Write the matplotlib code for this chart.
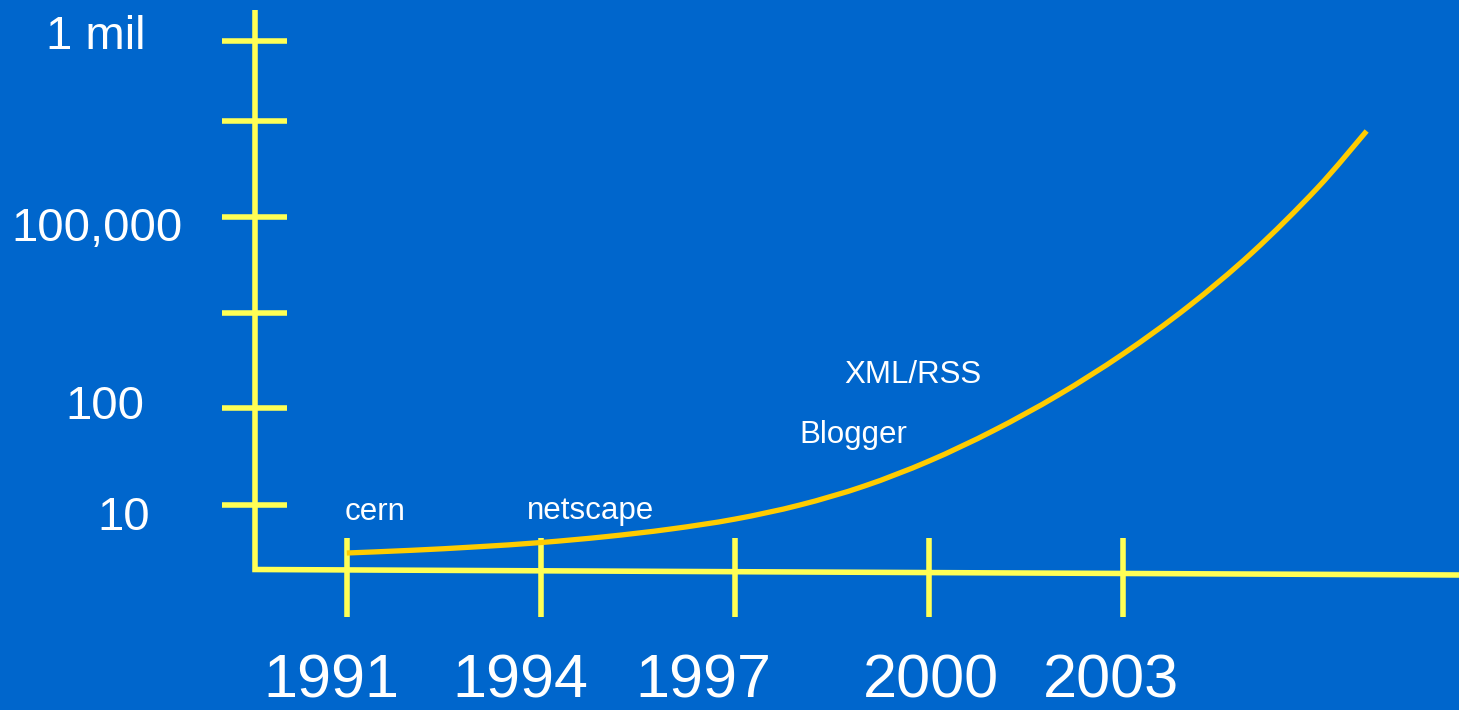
import matplotlib
matplotlib.use("Agg")
import matplotlib.pyplot as plt
from matplotlib.path import Path
from matplotlib.patches import PathPatch

# ---------------- data ----------------
years = [1991, 1992, 1993, 1994, 1995, 1996, 1997, 1998, 1999, 2000,
         2001, 2002, 2003, 2004, 2005, 2006, 2006.77]
growth_level = [0.500, 0.528, 0.564, 0.609, 0.670, 0.749, 0.853, 0.999, 1.197, 1.457,
                1.775, 2.145, 2.572, 3.061, 3.629, 4.296, 4.896]

year_ticks = [1991, 1994, 1997, 2000, 2003]
year_labels = ["1991", "1994", "1997", "2000", "2003"]

level_ticks = [1, 2.01, 3.0, 4.0, 5.0, 5.83]
level_labels = ["10", "100", "", "100,000", "", "1 mil"]

events = ["cern", "netscape", "Blogger", "XML/RSS"]

# ---------------- style / layout ----------------
W, H, DPI = 1459, 710, 100
BG = "#0066CC"
AXIS = "#FFFF55"
CURVE = "#FFCC00"
FONT = "Liberation Sans"

# pixel <-> data mapping of the slide
PX_PER_YEAR = 64.67
PX_1991 = 346.8
PX_LEVEL1 = 505.0
PX_PER_LEVEL = 96.0


def yr(px):
    return 1991 + (px - PX_1991) / PX_PER_YEAR


def lv(py):
    return 1 + (PX_LEVEL1 - py) / PX_PER_LEVEL


fig = plt.figure(figsize=(W / DPI, H / DPI), dpi=DPI, facecolor=BG)
ax = fig.add_axes([0, 0, 1, 1])
ax.set_facecolor(BG)
ax.set_xlim(yr(0), yr(W))
ax.set_ylim(lv(H), lv(0))
ax.axis("off")

lw_axis = 4.0
# axes frame (slide drawing): vertical + slightly slanted horizontal
ax.plot([yr(255), yr(255), yr(W)], [lv(10), lv(569.5), lv(575)],
        color=AXIS, lw=lw_axis, solid_joinstyle="miter", solid_capstyle="butt", zorder=2)

# y tick marks crossing the axis
for lvl in level_ticks:
    ax.plot([yr(222), yr(287)], [lvl, lvl], color=AXIS, lw=lw_axis,
            solid_capstyle="butt", zorder=2)

# x tick marks crossing the axis
for y in year_ticks:
    ax.plot([y, y], [lv(538), lv(617)], color=AXIS, lw=lw_axis,
            solid_capstyle="butt", zorder=2)

# growth curve: smooth (Catmull-Rom -> cubic Bezier) path through the read points
pts = list(zip(years, growth_level))
verts = [pts[0]]
codes = [Path.MOVETO]
n = len(pts)
for i in range(n - 1):
    p0 = pts[i - 1] if i > 0 else pts[i]
    p1 = pts[i]
    p2 = pts[i + 1]
    p3 = pts[i + 2] if i + 2 < n else pts[i + 1]
    c1 = (p1[0] + (p2[0] - p0[0]) / 6, p1[1] + (p2[1] - p0[1]) / 6)
    c2 = (p2[0] - (p3[0] - p1[0]) / 6, p2[1] - (p3[1] - p1[1]) / 6)
    verts += [c1, c2, p2]
    codes += [Path.CURVE4, Path.CURVE4, Path.CURVE4]
ax.add_patch(PathPatch(Path(verts, codes), facecolor="none", edgecolor=CURVE,
                       lw=3.8, capstyle="butt", joinstyle="round", zorder=3))

# y labels (individually placed as on the slide)
ylab_pos = [(124, 530), (105, 419), None, (97, 241), None, (96, 49)]
for lab, pos in zip(level_labels, ylab_pos):
    if lab and pos:
        ax.text(yr(pos[0]), lv(pos[1]), lab, color="white", fontsize=34,
                family=FONT, ha="center", va="baseline")

# year labels
year_lab_x = [331, 520, 703, 931, 1111]
for lab, px in zip(year_labels, year_lab_x):
    ax.text(yr(px), lv(697), lab, color="white", fontsize=44,
            family=FONT, ha="center", va="baseline")

# event annotations
event_pos = [(375, 520), (591, 519), (853, 443), (913, 383)]
for lab, (px, py) in zip(events, event_pos):
    ax.text(yr(px), lv(py), lab, color="white", fontsize=22.5,
            family=FONT, ha="center", va="baseline")

fig.savefig("out.png", dpi=DPI, facecolor=BG)
